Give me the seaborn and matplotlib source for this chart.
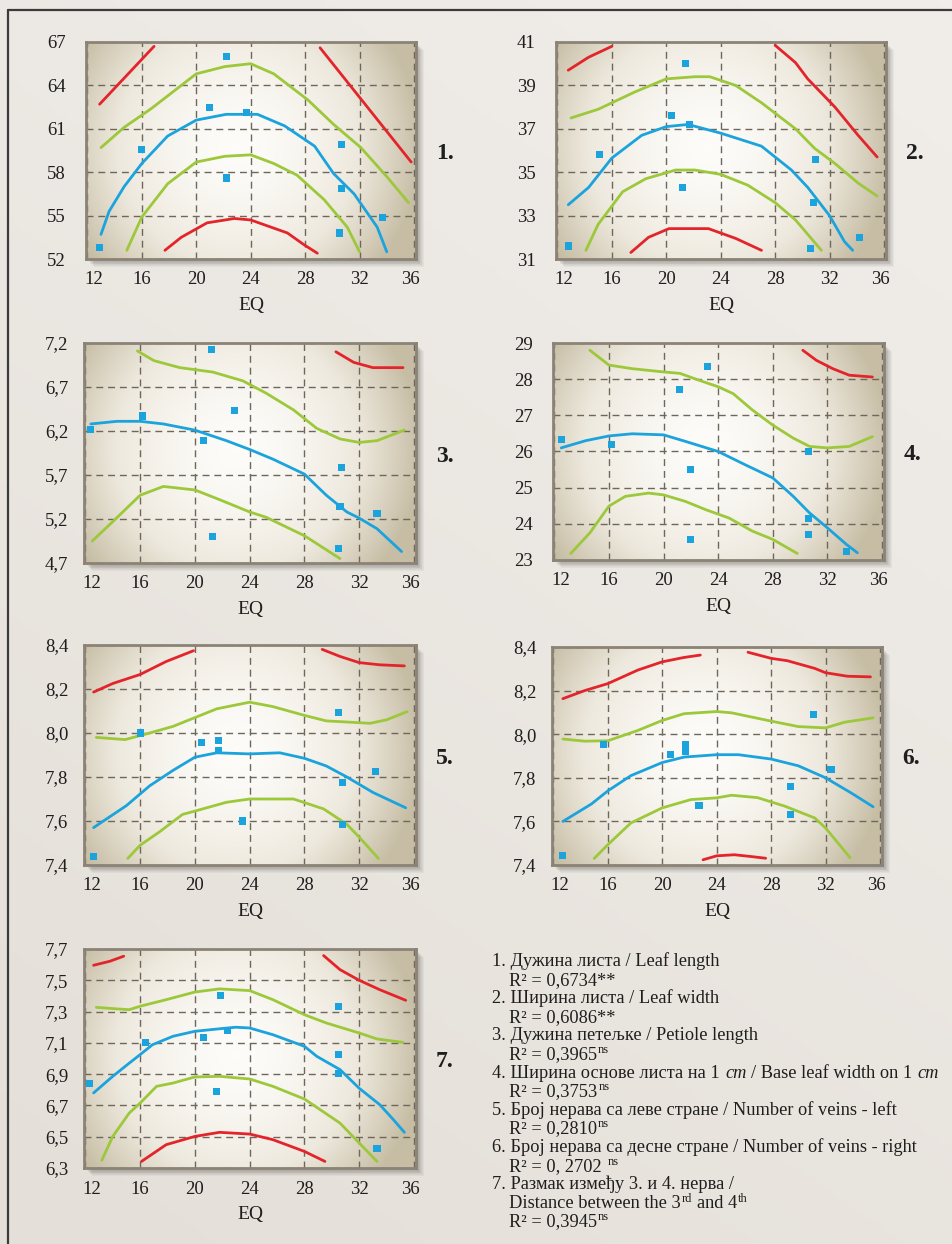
import numpy as np
import pandas as pd
import matplotlib
matplotlib.use("Agg")
import matplotlib.pyplot as plt
import matplotlib.transforms as mtransforms
import seaborn as sns
from matplotlib.colors import LinearSegmentedColormap
from matplotlib.patches import Rectangle

# ---- data (EQ on x) ----
P1_X = [12.9, 16.0, 21.0, 22.2, 22.2, 23.7, 30.7, 30.7, 30.5, 33.7]
P1_Y = [52.8, 59.6, 62.5, 66.0, 57.6, 62.1, 59.9, 56.85, 53.8, 54.85]
P1_FIT = [(13.0, 53.7), (13.6, 55.3), (14.7, 57.0), (16.0, 58.6), (17.9, 60.5), (20.0, 61.6),
          (22.2, 62.0), (24.5, 62.0), (26.5, 61.2), (28.7, 59.8), (30.1, 57.9), (31.6, 56.5),
          (33.3, 54.2), (34.0, 52.5)]
P1_CI_UP = [(13.0, 59.7), (14.7, 61.1), (16.7, 62.4), (20.0, 64.8), (22.1, 65.3), (24.0, 65.5),
            (25.7, 64.8), (28.2, 63.0), (30.1, 61.3), (32.1, 59.7), (34.0, 57.7), (35.6, 55.9)]
P1_CI_LO = [(14.9, 52.6), (16.0, 54.9), (17.9, 57.2), (20.0, 58.7), (22.1, 59.1), (24.0, 59.2),
            (25.7, 58.6), (27.4, 57.8), (29.4, 56.1), (31.1, 54.2), (32.0, 52.5)]
P1_PI = [[(12.9, 62.7), (16.9, 66.7)],
         [(29.1, 66.6), (35.8, 58.7)],
         [(17.7, 52.6), (18.9, 53.5), (20.8, 54.5), (22.8, 54.8), (24.0, 54.7), (26.7, 53.8),
          (27.9, 53.0), (28.9, 52.4)]]

P2_X = [12.8, 15.1, 20.4, 21.4, 21.7, 21.2, 31.0, 30.8, 30.6, 34.2]
P2_Y = [31.6, 35.8, 37.6, 40.0, 37.2, 34.3, 35.6, 33.6, 31.5, 32.0]
P2_FIT = [(12.8, 33.5), (14.3, 34.3), (16.0, 35.65), (18.2, 36.7), (20.0, 37.1), (21.6, 37.2),
          (24.0, 36.8), (27.0, 36.2), (29.2, 35.1), (30.4, 34.3), (32.0, 33.0), (33.1, 31.8),
          (33.7, 31.4)]
P2_CI_UP = [(13.0, 37.5), (15.0, 37.9), (17.7, 38.7), (20.0, 39.3), (22.1, 39.4), (23.2, 39.4),
            (25.1, 39.0), (27.0, 38.2), (29.5, 37.0), (30.9, 36.1), (32.4, 35.4), (34.1, 34.5),
            (35.5, 33.9)]
P2_CI_LO = [(14.1, 31.4), (15.0, 32.6), (16.8, 34.1), (18.5, 34.7), (20.7, 35.1), (22.1, 35.1),
            (24.0, 34.9), (26.0, 34.4), (28.0, 33.6), (29.5, 32.8), (31.4, 31.4)]
P2_PI = [[(12.8, 39.7), (14.3, 40.3), (16.0, 40.8)],
         [(28.0, 40.85), (29.5, 40.05), (30.4, 39.3), (32.4, 38.0), (34.1, 36.7), (35.5, 35.7)],
         [(17.4, 31.3), (18.7, 32.0), (20.2, 32.4), (21.6, 32.4), (23.1, 32.4), (25.1, 31.95),
          (27.0, 31.4)]]

P3_X = [12.4, 16.2, 21.2, 22.9, 20.6, 21.3, 30.7, 30.6, 33.3, 30.5]
P3_Y = [6.22, 6.37, 7.13, 6.43, 6.09, 5.00, 5.79, 5.34, 5.26, 4.86]
P3_FIT = [(12.4, 6.28), (14.3, 6.31), (16.0, 6.31), (17.7, 6.28), (20.0, 6.21), (22.3, 6.09),
          (24.0, 5.99), (25.7, 5.88), (28.0, 5.71), (29.6, 5.47), (31.1, 5.28), (32.0, 5.21),
          (33.3, 5.09), (35.1, 4.83)]
P3_CI_UP = [(15.8, 7.11), (17.0, 7.0), (18.9, 6.92), (21.3, 6.87), (23.5, 6.77), (25.2, 6.63),
            (27.2, 6.44), (28.9, 6.23), (30.6, 6.11), (32.0, 6.07), (33.3, 6.09), (35.3, 6.21)]
P3_CI_LO = [(12.5, 4.95), (14.0, 5.17), (16.0, 5.47), (17.7, 5.57), (20.0, 5.53), (21.8, 5.42),
            (24.0, 5.28), (25.2, 5.22), (28.0, 5.01), (30.6, 4.75)]
P3_PI = [[(30.3, 7.10), (31.6, 6.98), (33.0, 6.92), (35.2, 6.92)]]

P4_X = [12.5, 16.2, 21.2, 23.2, 22.0, 22.0, 30.6, 30.6, 30.6, 33.4]
P4_Y = [26.32, 26.2, 27.72, 28.36, 25.5, 23.57, 26.0, 24.15, 23.7, 23.24]
P4_FIT = [(12.5, 26.1), (14.3, 26.3), (16.0, 26.43), (17.7, 26.49), (20.0, 26.46), (21.6, 26.28),
          (24.0, 26.0), (26.0, 25.63), (28.0, 25.27), (29.5, 24.76), (30.7, 24.3), (32.0, 23.89),
          (33.4, 23.43), (34.2, 23.2)]
P4_CI_UP = [(14.6, 28.8), (16.0, 28.39), (17.7, 28.29), (20.0, 28.2), (21.2, 28.16), (22.6, 27.97),
            (24.0, 27.79), (25.1, 27.6), (26.5, 27.15), (28.0, 26.73), (29.5, 26.37), (30.7, 26.14),
            (32.0, 26.1), (33.6, 26.14), (35.3, 26.41)]
P4_CI_LO = [(13.2, 23.18), (14.6, 23.75), (16.0, 24.49), (17.2, 24.76), (18.9, 24.85), (20.0, 24.8),
            (21.6, 24.62), (23.1, 24.39), (24.8, 24.16), (26.5, 23.8), (28.0, 23.57), (29.8, 23.18)]
P4_PI = [[(30.2, 28.8), (31.2, 28.52), (32.4, 28.29), (33.6, 28.11), (35.3, 28.06)]]

P5_X = [12.6, 16.0, 20.5, 21.7, 21.7, 23.5, 30.5, 30.8, 30.8, 33.2]
P5_Y = [7.44, 8.0, 7.955, 7.966, 7.92, 7.60, 8.095, 7.775, 7.586, 7.827]
P5_FIT = [(12.6, 7.57), (15.0, 7.67), (16.7, 7.76), (18.4, 7.83), (20.0, 7.89), (21.6, 7.91),
          (24.0, 7.905), (26.2, 7.91), (28.0, 7.885), (29.6, 7.85), (31.1, 7.80), (33.0, 7.73),
          (35.4, 7.66)]
P5_CI_UP = [(12.8, 7.98), (14.9, 7.97), (16.7, 8.0), (18.4, 8.03), (20.0, 8.07), (21.6, 8.11),
            (24.0, 8.14), (25.7, 8.12), (28.0, 8.08), (29.6, 8.055), (31.1, 8.05), (32.8, 8.044),
            (34.0, 8.06), (35.5, 8.097)]
P5_CI_LO = [(15.1, 7.43), (16.0, 7.49), (17.4, 7.55), (19.1, 7.63), (20.0, 7.645), (22.3, 7.685),
            (24.0, 7.70), (27.2, 7.70), (29.4, 7.655), (31.1, 7.585), (32.1, 7.52), (33.4, 7.43)]
P5_PI = [[(12.6, 8.186), (14.0, 8.225), (16.0, 8.266), (17.9, 8.325), (19.9, 8.374)],
         [(29.3, 8.38), (30.6, 8.348), (32.0, 8.32), (33.5, 8.31), (35.3, 8.305)]]

P6_X = [12.65, 15.66, 20.6, 21.7, 21.7, 22.7, 29.4, 29.4, 31.1, 32.4]
P6_Y = [7.443, 7.952, 7.906, 7.952, 7.92, 7.675, 7.761, 7.633, 8.09, 7.84]
P6_FIT = [(12.7, 7.6), (14.8, 7.68), (16.0, 7.74), (17.7, 7.81), (20.0, 7.87), (21.6, 7.895),
          (24.0, 7.906), (25.6, 7.906), (28.0, 7.886), (30.0, 7.855), (32.0, 7.80), (33.9, 7.73),
          (35.5, 7.667)]
P6_CI_UP = [(12.7, 7.978), (14.3, 7.968), (16.0, 7.97), (18.2, 8.017), (20.0, 8.063), (21.6, 8.094),
            (24.0, 8.104), (25.1, 8.098), (28.0, 8.06), (30.0, 8.035), (32.0, 8.029), (33.4, 8.055),
            (35.5, 8.075)]
P6_CI_LO = [(15.0, 7.43), (16.0, 7.493), (17.7, 7.593), (20.0, 7.662), (22.1, 7.70), (24.0, 7.708),
            (25.1, 7.72), (27.0, 7.709), (29.0, 7.67), (31.2, 7.616), (32.0, 7.57), (33.8, 7.434)]
P6_PI = [[(12.7, 8.163), (14.3, 8.20), (16.0, 8.232), (18.2, 8.294), (20.0, 8.332), (21.6, 8.352),
          (22.8, 8.363)],
         [(26.3, 8.376), (28.0, 8.348), (29.2, 8.337), (31.2, 8.302), (32.0, 8.282), (33.6, 8.266),
          (35.3, 8.263)],
         [(23.0, 7.424), (24.0, 7.442), (25.3, 7.447), (26.5, 7.439), (27.6, 7.431)]]

P7_X = [12.3, 16.4, 20.6, 21.9, 22.4, 21.6, 30.5, 30.5, 30.5, 33.3]
P7_Y = [6.84, 7.10, 7.135, 7.40, 7.178, 6.79, 7.33, 7.025, 6.905, 6.423]
P7_FIT = [(12.6, 6.78), (14.0, 6.886), (15.2, 6.97), (16.0, 7.025), (16.9, 7.088), (18.4, 7.142),
          (20.0, 7.174), (21.8, 7.19), (23.0, 7.2), (24.0, 7.195), (25.7, 7.152), (28.0, 7.078),
          (28.9, 7.014), (30.6, 6.929), (32.0, 6.81), (33.5, 6.705), (34.5, 6.609), (35.3, 6.528)]
P7_CI_UP = [(12.8, 7.327), (14.0, 7.319), (15.2, 7.312), (16.0, 7.334), (17.9, 7.376), (20.0, 7.425),
            (21.8, 7.445), (24.0, 7.434), (25.7, 7.376), (28.0, 7.28), (29.6, 7.227), (32.0, 7.163),
            (33.3, 7.125), (35.2, 7.103)]
P7_CI_LO = [(13.2, 6.349), (14.0, 6.502), (15.2, 6.651), (16.0, 6.715), (17.2, 6.822), (18.4, 6.843),
            (20.0, 6.882), (21.8, 6.886), (24.0, 6.869), (25.7, 6.822), (28.0, 6.741), (30.6, 6.587),
            (32.0, 6.46), (33.3, 6.342)]
P7_PI = [[(12.6, 7.596), (13.8, 7.622), (14.8, 7.654)],
         [(29.4, 7.658), (30.6, 7.568), (32.0, 7.5), (33.5, 7.44), (35.4, 7.372)],
         [(16.1, 6.342), (17.9, 6.449), (20.0, 6.502), (21.8, 6.528), (24.0, 6.517), (25.7, 6.481),
          (28.0, 6.406), (29.5, 6.342)]]

X_TICKS = [12, 16, 20, 24, 28, 32, 36]
Y_TICKS = {
    1: [52, 55, 58, 61, 64, 67],
    2: [31, 33, 35, 37, 39, 41],
    3: [4.7, 5.2, 5.7, 6.2, 6.7, 7.2],
    4: [23, 24, 25, 26, 27, 28, 29],
    5: [7.4, 7.6, 7.8, 8.0, 8.2, 8.4],
    6: [7.4, 7.6, 7.8, 8.0, 8.2, 8.4],
    7: [6.3, 6.5, 6.7, 6.9, 7.1, 7.3, 7.5, 7.7],
}
Y_LABELS = {
    1: ["52", "55", "58", "61", "64", "67"],
    2: ["31", "33", "35", "37", "39", "41"],
    3: ["4,7", "5,2", "5,7", "6,2", "6,7", "7,2"],
    4: ["23", "24", "25", "26", "27", "28", "29"],
    5: ["7,4", "7,6", "7,8", "8,0", "8,2", "8,4"],
    6: ["7,4", "7,6", "7,8", "8,0", "8,2", "8,4"],
    7: ["6,3", "6,5", "6,7", "6,9", "7,1", "7,3", "7,5", "7,7"],
}

# explanation block: each line is a list of (text, kind, space_before)
LEGEND_LINES = [
    [("1. Дужина листа / Leaf length", "n", False)],
    [("R² = 0,6734**", "n", False)],
    [("2. Ширина листа / Leaf width", "n", False)],
    [("R² = 0,6086**", "n", False)],
    [("3. Дужина петељке / Petiole length", "n", False)],
    [("R² = 0,3965", "n", False), ("ns", "sup", False)],
    [("4. Ширина основе листа на 1", "n", False), ("cm", "it", True),
     ("/ Base leaf width on 1", "n", True), ("cm", "it", True)],
    [("R² = 0,3753", "n", False), ("ns", "sup", False)],
    [("5. Број нерава са леве стране / Number of veins - left", "n", False)],
    [("R² = 0,2810", "n", False), ("ns", "sup", False)],
    [("6. Број нерава са десне стране / Number of veins - right", "n", False)],
    [("R² = 0, 2702", "n", False), ("ns", "sup", True)],
    [("7. Размак између 3. и 4. нерва /", "n", False)],
    [("Distance between the 3", "n", False), ("rd", "sup", False),
     ("and 4", "n", True), ("th", "sup", False)],
    [("R² = 0,3945", "n", False), ("ns", "sup", False)],
]
LEGEND_INDENT = [False, True, False, True, False, True, False, True, False, True, False, True,
                 False, True, True]

BLUE = "#1ba3dd"
GREEN = "#9cc83a"
RED = "#e3252b"

W, H = 953, 1244

sns.set_style("white")
plt.rcParams["font.family"] = ["Liberation Serif", "DejaVu Serif"]

fig = plt.figure(figsize=(W / 100, H / 100), dpi=100)
fig.patch.set_facecolor("#e8e4de")

# page background
bg = fig.add_axes([0, 0, 1, 1], zorder=-10)
gx = np.linspace(0, 1, 200)
gy = np.linspace(0, 1, 260)
GX, GY = np.meshgrid(gx, gy)
page = 0.35 * GX + 0.65 * GY
page_cmap = LinearSegmentedColormap.from_list("page", ["#e4dfd8", "#f1eeea"])
bg.imshow(page, cmap=page_cmap, extent=[0, 1, 0, 1], origin="lower", aspect="auto")
bg.plot([8 / W, 1], [1 - 10 / H, 1 - 10 / H], color="#3b3b3b", lw=1.6)
bg.plot([8 / W, 8 / W], [0, 1 - 10 / H], color="#3b3b3b", lw=1.6)
bg.set_xlim(0, 1)
bg.set_ylim(0, 1)
bg.axis("off")

panel_cmap = LinearSegmentedColormap.from_list("panel", ["#fdfcf9", "#eee9de", "#c6bda4"])
u = np.linspace(0, 1, 240)
v = np.linspace(0, 1, 160)
U, V = np.meshgrid(u, v)
R = np.sqrt(((U - 0.46) / 0.56) ** 2 + ((V - 0.52) / 0.85) ** 2)
GLOW = np.clip(R, 0, 1) ** 1.6

# pixel boxes: left, top, right, bottom
BOXES = {
    1: (86, 42, 416, 259),
    2: (556, 42, 886, 259),
    3: (84, 343, 416, 563),
    4: (553, 343, 884, 560),
    5: (84, 645, 416, 865),
    6: (552, 647, 882, 865),
    7: (84, 949, 416, 1168),
}

PANELS = {
    1: (P1_X, P1_Y, P1_FIT, P1_CI_UP, P1_CI_LO, P1_PI),
    2: (P2_X, P2_Y, P2_FIT, P2_CI_UP, P2_CI_LO, P2_PI),
    3: (P3_X, P3_Y, P3_FIT, P3_CI_UP, P3_CI_LO, P3_PI),
    4: (P4_X, P4_Y, P4_FIT, P4_CI_UP, P4_CI_LO, P4_PI),
    5: (P5_X, P5_Y, P5_FIT, P5_CI_UP, P5_CI_LO, P5_PI),
    6: (P6_X, P6_Y, P6_FIT, P6_CI_UP, P6_CI_LO, P6_PI),
    7: (P7_X, P7_Y, P7_FIT, P7_CI_UP, P7_CI_LO, P7_PI),
}


def draw_curve(ax, pts, color):
    df = pd.DataFrame(pts, columns=["EQ", "val"])
    sns.lineplot(data=df, x="EQ", y="val", sort=False, estimator=None,
                 color=color, lw=2.0, ax=ax, zorder=2)


for num, (px, py, fit, ci_up, ci_lo, pi_segs) in PANELS.items():
    left, top, right, bottom = BOXES[num]
    rect = [left / W, 1 - bottom / H, (right - left) / W, (bottom - top) / H]

    # soft drop shadow
    for i in range(1, 10):
        bg.add_patch(Rectangle((rect[0] + i * 0.9 / W, rect[1] - i * 0.9 / H), rect[2], rect[3],
                               facecolor="#2a2620", alpha=0.045, lw=0, zorder=1))

    ax = fig.add_axes(rect)
    yt = Y_TICKS[num]
    ax.set_xlim(11.9, 36.15)
    ax.set_ylim(yt[0], yt[-1])
    ax.imshow(GLOW, cmap=panel_cmap, extent=[11.9, 36.15, yt[0], yt[-1]],
              origin="lower", aspect="auto", zorder=0, vmin=0, vmax=1)

    for seg in pi_segs:
        draw_curve(ax, seg, RED)
    draw_curve(ax, ci_up, GREEN)
    draw_curve(ax, ci_lo, GREEN)
    draw_curve(ax, fit, BLUE)
    sns.scatterplot(x=px, y=py, marker="s", s=26, color=BLUE, edgecolor="none",
                    ax=ax, zorder=4)

    ax.set_xticks(X_TICKS)
    ax.set_xticklabels([str(t) for t in X_TICKS])
    ax.set_yticks(yt)
    ax.set_yticklabels(Y_LABELS[num])
    ax.grid(True, color="#6f675c", lw=1.0, ls=(0, (5, 3.5)))
    ax.tick_params(axis="both", length=0, labelsize=13.5, colors="#1e1e1e")
    ax.tick_params(axis="y", pad=28)
    ax.tick_params(axis="x", pad=9)
    for lab in ax.get_yticklabels():
        lab.set_horizontalalignment("left")
    xl = ax.get_xticklabels()
    xl[0].set_transform(xl[0].get_transform() + mtransforms.ScaledTranslation(6 / 100, 0, fig.dpi_scale_trans))
    xl[-1].set_transform(xl[-1].get_transform() + mtransforms.ScaledTranslation(-4 / 100, 0, fig.dpi_scale_trans))
    ax.set_xlabel("EQ", fontsize=14, color="#1e1e1e", labelpad=6)
    ax.set_ylabel("")
    for sp in ax.spines.values():
        sp.set_color("#8b8376")
        sp.set_linewidth(2.0)

    cx = (right + 29) / W
    cy = 1 - (top + bottom) / 2 / H - 3 / H
    fig.text(cx, cy, f"{num}.", fontsize=17, fontweight="bold", ha="center", va="center",
             color="#1e1e1e")

# explanation block, written piece by piece so italics and superscripts sit inline
renderer = fig.canvas.get_renderer()
FS = 13.2
SPACE = FS * 0.25 * 100 / 72
y0 = 966
for i, (pieces, indent) in enumerate(zip(LEGEND_LINES, LEGEND_INDENT)):
    x_px = 509 if indent else 492
    base = y0 + i * 18.6
    for txt, kind, gap in pieces:
        if gap:
            x_px += SPACE
        size = FS * 0.68 if kind == "sup" else FS
        y_px = base - 6 if kind == "sup" else base
        t = fig.text(x_px / W, 1 - y_px / H, txt, fontsize=size, ha="left", va="baseline",
                     fontstyle="italic" if kind == "it" else "normal", color="#1e1e1e")
        bb = t.get_window_extent(renderer)
        x_px = bb.x1 + (1 if kind == "n" else 0)

fig.savefig("out.png", dpi=100)
